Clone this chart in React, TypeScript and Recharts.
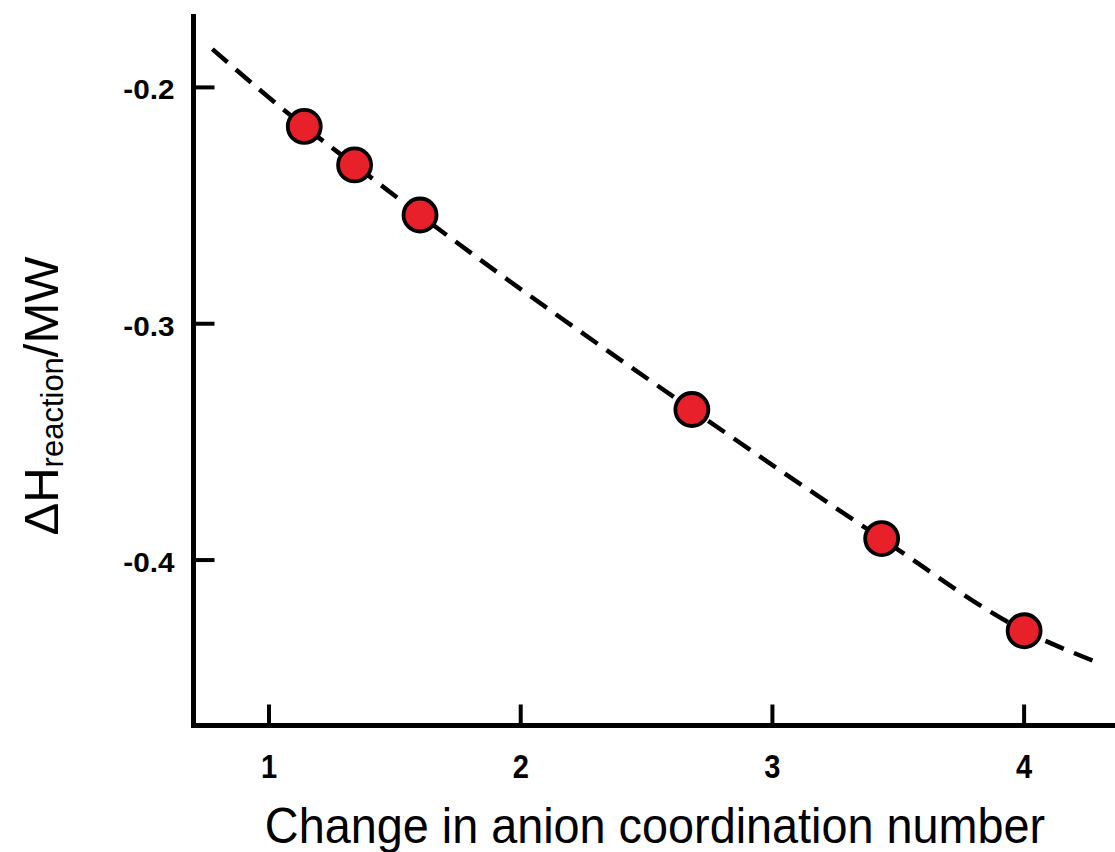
import React from 'react';
import { ComposedChart, XAxis, YAxis, Scatter, Line } from 'recharts';

const xTicks = [1, 2, 3, 4];
const yTicks = [-0.4, -0.3, -0.2];
const xDomain = [0.7, 4.4];
const yDomain = [-0.47, -0.17];

const pointX = [1.14, 1.34, 1.6, 2.68, 3.434, 4.0];
const pointY = [-0.2165, -0.2328, -0.254, -0.3363, -0.3909, -0.4299];

const fitX = [0.775, 1.14, 1.34, 1.6, 2.68, 3.434, 4.0, 4.274];
const fitY = [-0.1838, -0.2165, -0.2328, -0.254, -0.3363, -0.3909, -0.4299, -0.4426];

const xTitle = 'Change in anion coordination number';
const yTitleMain = 'ΔH';
const yTitleSub = 'reaction';
const yTitleEnd = '/MW';

const points = pointX.map((x, i) => ({ x, y: pointY[i] }));
const fit = fitX.map((x, i) => ({ x, y: fitY[i] }));

const FONT = '"Liberation Sans", Arial, Helvetica, sans-serif';

const XTick = (props: any) => {
  const { x, y, payload } = props;
  return (
    <g>
      <line x1={x} x2={x} y1={y} y2={y - 21} stroke="#000" strokeWidth={4} />
      <text
        transform={`translate(${x}, ${y + 52}) scale(0.88, 1)`}
        textAnchor="middle"
        fontFamily={FONT}
        fontWeight="bold"
        fontSize={33}
        fill="#000"
      >
        {payload.value}
      </text>
    </g>
  );
};

const YTick = (props: any) => {
  const { x, y, payload } = props;
  return (
    <g>
      <line x1={x} x2={x + 21} y1={y} y2={y} stroke="#000" strokeWidth={4} />
      <text
        transform={`translate(${x - 19}, ${y + 12}) scale(1.1, 1)`}
        textAnchor="end"
        fontFamily={FONT}
        fontWeight="bold"
        fontSize={27}
        fill="#000"
      >
        {payload.value.toFixed(1)}
      </text>
    </g>
  );
};

const XTitle = () => {
  return (
    <text
      transform="translate(655, 843) scale(1.0, 1.05)"
      textAnchor="middle"
      fontFamily={FONT}
      fontSize={46.8}
      fill="#000"
    >
      {xTitle}
    </text>
  );
};

const YTitle = () => {
  return (
    <text transform={`translate(58, 396) rotate(-90)`} textAnchor="middle" fontFamily={FONT} fontSize={49} fill="#000">
      {yTitleMain}
      <tspan fontSize={31} dy={5}>{yTitleSub}</tspan>
      <tspan dy={-5}>{yTitleEnd}</tspan>
    </text>
  );
};

const Dot = (props: any) => {
  const { cx, cy } = props;
  return <circle cx={cx} cy={cy} r={16.5} fill="#e8202a" stroke="#000" strokeWidth={3.8} />;
};

export default function App() {
  return (
    <div style={{ position: 'absolute', left: 0, top: 0, width: 1115, height: 852, overflow: 'hidden', background: '#fff' }}>
      <ComposedChart
        width={1140}
        height={852}
        margin={{ top: 16.5, right: 15.2, bottom: 0, left: 0 }}
      >
        <XAxis
          xAxisId="top"
          orientation="top"
          type="number"
          dataKey="x"
          domain={xDomain}
          height={0}
          tick={false}
          tickLine={false}
          axisLine={{ stroke: '#000', strokeWidth: 5, strokeLinecap: 'square' }}
        />
        <XAxis
          type="number"
          dataKey="x"
          domain={xDomain}
          ticks={xTicks}
          allowDataOverflow
          height={126.5}
          tickSize={0}
          tickMargin={0}
          tickLine={false}
          tick={<XTick />}
          axisLine={{ stroke: '#000', strokeWidth: 5, strokeLinecap: 'square' }}
          label={{ content: <XTitle /> }}
        />
        <YAxis
          type="number"
          dataKey="y"
          domain={yDomain}
          ticks={yTicks}
          allowDataOverflow
          width={193.5}
          tickSize={0}
          tickMargin={0}
          tickLine={false}
          tick={<YTick />}
          axisLine={{ stroke: '#000', strokeWidth: 5, strokeLinecap: 'square' }}
          label={{ content: <YTitle /> }}
        />
        <Scatter data={points} dataKey="y" shape={<Dot />} isAnimationActive={false} />
        <Line
          data={fit}
          dataKey="y"
          type="monotone"
          stroke="#000"
          strokeWidth={4.5}
          strokeDasharray="20 11"
          dot={false}
          activeDot={false}
          isAnimationActive={false}
        />
      </ComposedChart>
    </div>
  );
}
